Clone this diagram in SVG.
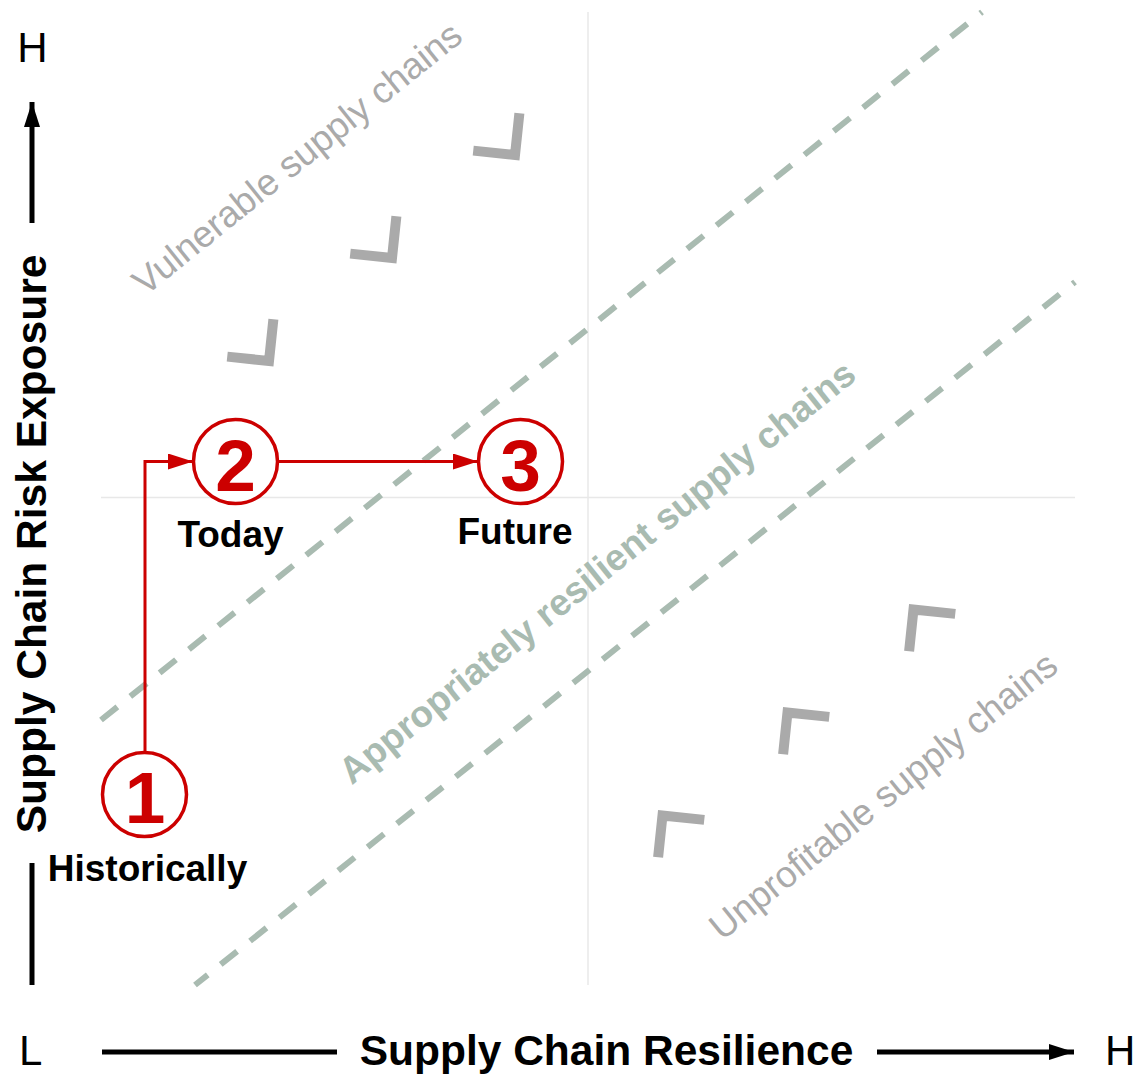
<svg xmlns="http://www.w3.org/2000/svg" width="1135" height="1074" viewBox="0 0 1135 1074">
  <style>
    text { font-family: "Liberation Sans", Arial, sans-serif; }
    .axis { fill: #000; font-size: 42px; }
    .axis-title { fill: #000; font-size: 42.5px; font-weight: bold; }
    .stage-label { fill: #000; font-size: 37px; font-weight: bold; text-anchor: middle; }
    .stage-num { fill: #cc0000; font-size: 73px; font-weight: bold; text-anchor: middle; }
    .stage-ring { fill: #fff; stroke: #cc0000; stroke-width: 3.5; }
    .zone-label { fill: #aaaaaa; font-size: 37px; text-anchor: middle; }
    .band-label { fill: #a9bbb1; font-size: 37px; font-weight: bold; text-anchor: middle; }
    .grid { stroke: #e8e8e8; stroke-width: 1.5; fill: none; }
    .band { stroke: #a9bbb1; stroke-width: 6; stroke-dasharray: 21 16.6; fill: none; }
    .chev { stroke: #aaaaaa; stroke-width: 10; fill: none; stroke-linejoin: miter; }
    .axis-line { stroke: #000; stroke-width: 5; fill: none; }
    .flow { stroke: #cc0000; stroke-width: 3; fill: none; }
  </style>
  <defs>
    <marker id="axisHead" viewBox="0 0 25 16" refX="25" refY="8" markerWidth="25" markerHeight="16" markerUnits="userSpaceOnUse" orient="auto">
      <path d="M0 0 L25 8 L0 16 Z" fill="#000"/>
    </marker>
    <marker id="flowHead" viewBox="0 0 25 16" refX="25" refY="8" markerWidth="25" markerHeight="16" markerUnits="userSpaceOnUse" orient="auto">
      <path d="M0 0 L25 8 L0 16 Z" fill="#cc0000"/>
    </marker>
    <path id="chevUp" class="chev" d="M-42 0 H0 V-42"/>
    <path id="chevDown" class="chev" d="M0 42 V0 H42"/>
  </defs>

  <rect width="1135" height="1074" fill="#fff"/>

  <!-- quadrant grid -->
  <g id="grid">
    <line class="grid" x1="588" y1="12" x2="588" y2="985"/>
    <line class="grid" x1="101" y1="497.5" x2="1075" y2="497.5"/>
  </g>

  <!-- band boundaries -->
  <g id="band-lines">
    <line class="band" x1="101" y1="720" x2="982" y2="12"/>
    <line class="band" x1="195" y1="985" x2="1075" y2="282" stroke-dashoffset="4.7"/>
  </g>

  <!-- zone labels -->
  <g id="zone-labels">
    <text class="zone-label" transform="translate(305,168) rotate(-38.8)">Vulnerable supply chains</text>
    <text class="band-label" transform="translate(605,582) rotate(-38.8)">Appropriately resilient supply chains</text>
    <text class="zone-label" transform="translate(891,805.5) rotate(-38.8)">Unprofitable supply chains</text>
  </g>

  <!-- chevrons pointing toward the band -->
  <g id="chevrons">
    <use href="#chevUp" transform="translate(515,155) rotate(6)"/>
    <use href="#chevUp" transform="translate(392,258) rotate(6)"/>
    <use href="#chevUp" transform="translate(269,361) rotate(6)"/>
    <use href="#chevDown" transform="translate(913.5,609.5) rotate(6)"/>
    <use href="#chevDown" transform="translate(787.5,712.5) rotate(6)"/>
    <use href="#chevDown" transform="translate(662.5,815.5) rotate(6)"/>
  </g>

  <!-- axes -->
  <g id="y-axis">
    <text class="axis" x="32.5" y="62" text-anchor="middle">H</text>
    <line class="axis-line" x1="32" y1="223" x2="32" y2="102" marker-end="url(#axisHead)"/>
    <text class="axis-title" transform="translate(46,544) rotate(-90)" text-anchor="middle">Supply Chain Risk Exposure</text>
    <line class="axis-line" x1="32" y1="863" x2="32" y2="985"/>
  </g>
  <g id="x-axis">
    <text class="axis" x="19" y="1065">L</text>
    <line class="axis-line" x1="102" y1="1052" x2="337" y2="1052"/>
    <text class="axis-title" x="606.5" y="1065" text-anchor="middle">Supply Chain Resilience</text>
    <line class="axis-line" x1="877" y1="1052" x2="1074" y2="1052" marker-end="url(#axisHead)"/>
    <text class="axis" x="1105" y="1065">H</text>
  </g>

  <!-- connectors between stages -->
  <g id="connectors">
    <path class="flow" d="M145 752 V461.5 H193" marker-end="url(#flowHead)"/>
    <line class="flow" x1="278" y1="461.5" x2="478" y2="461.5" marker-end="url(#flowHead)"/>
  </g>

  <!-- stages -->
  <g id="stage-1">
    <circle class="stage-ring" cx="144.5" cy="794.5" r="42"/>
    <text class="stage-num" x="145" y="823">1</text>
    <text class="stage-label" x="147.5" y="881">Historically</text>
  </g>
  <g id="stage-2">
    <circle class="stage-ring" cx="235.5" cy="461.5" r="42"/>
    <text class="stage-num" x="235.5" y="491">2</text>
    <text class="stage-label" x="230.5" y="547">Today</text>
  </g>
  <g id="stage-3">
    <circle class="stage-ring" cx="520.5" cy="461.5" r="42"/>
    <text class="stage-num" x="520.5" y="491">3</text>
    <text class="stage-label" x="515" y="544">Future</text>
  </g>
</svg>
